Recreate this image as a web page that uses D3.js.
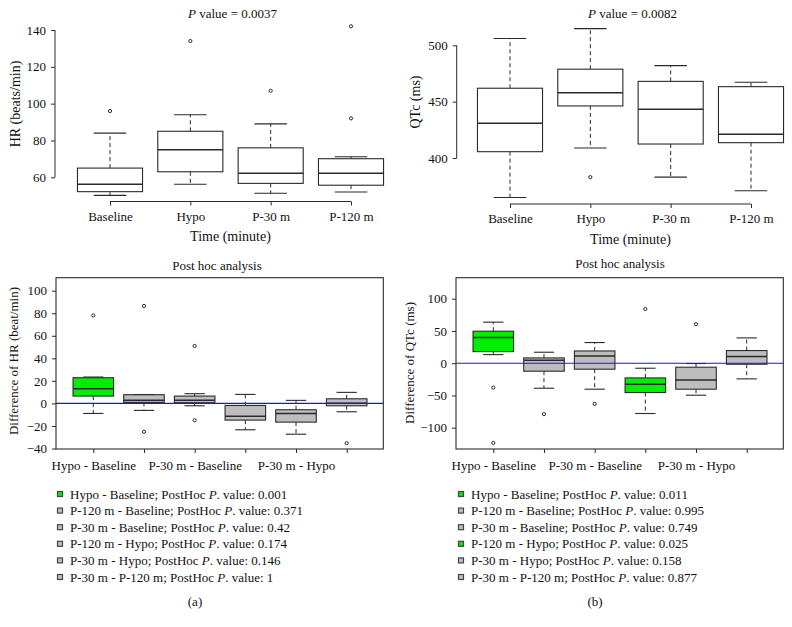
<!DOCTYPE html>
<html>
<head>
<meta charset="utf-8">
<script src="https://cdn.jsdelivr.net/npm/d3@7/dist/d3.min.js"></script>
<style>
  body { margin: 0; background: #fff; }
  svg text { font-family: "Liberation Serif", "Times New Roman", serif; fill: #111; }
</style>
</head>
<body>
<svg id="chart" width="792" height="627"></svg>
<script>
// ---------- DATA ----------
const timeCats = ["Baseline", "Hypo", "P-30 m", "P-120 m"];
// [lower whisker, Q1, median, Q3, upper whisker]
const hrStats = [
  [50.2, 52.2, 56.2, 65, 84],
  [56.2, 63, 75, 85, 94],
  [51.3, 56.7, 62.2, 76, 89],
  [52, 55.7, 62.2, 70.1, 71.2]
];
const hrOutliers = [[96], [134], [107], [142, 92]];
const hrTicks = [60, 80, 100, 120, 140];

const qtcStats = [
  [365, 405.6, 430.8, 461.9, 506],
  [408.9, 446.2, 458, 478.8, 514.8],
  [383, 412.4, 443.2, 468, 482],
  [371, 413.6, 421, 463.3, 467.2]
];
const qtcOutliers = [[], [383], [], []];
const qtcTicks = [400, 450, 500];

const compCats = ["Hypo - Baseline", "P-120 m - Baseline", "P-30 m - Baseline",
                  "P-120 m - Hypo", "P-30 m - Hypo", "P-30 m - P-120 m"];
const compTickLabels = ["Hypo - Baseline", "", "P-30 m - Baseline", "", "P-30 m - Hypo", ""];

const dHrStats = [
  [-8.9, 6.5, 13, 22.8, 23.4],
  [-6.2, 0.9, 2.7, 7.7, 7.9],
  [-2.1, 0.6, 2.7, 6.5, 8.6],
  [-23.4, -14.8, -11.3, -1.8, 8],
  [-27.3, -16.6, -8.9, -5.6, 2.7],
  [-7.4, -2.1, 0.2, 4.1, 9.8]
];
const dHrOutliers = [[78], [86.5, -25.2], [51, -15], [], [], [-35.3]];
const dHrPvals = ["0.001", "0.371", "0.42", "0.174", "0.146", "1"];
const dHrTicks = [-40, -20, 0, 20, 40, 60, 80, 100];

const dQtcStats = [
  [13.3, 18, 39.7, 49.6, 63.6],
  [-38.8, -12.4, 4.6, 8.2, 17],
  [-40.3, -9.3, 11.3, 19, 32],
  [-78, -45.5, -32.6, -22.8, -7.8],
  [-49.6, -40.3, -25.9, -6.2, -0.5],
  [-24.3, -1.6, 10.3, 19.6, 39.2]
];
const dQtcOutliers = [[-37.8, -123.6], [-79], [-63], [84], [60.5], []];
const dQtcPvals = ["0.011", "0.995", "0.749", "0.025", "0.158", "0.877"];
const dQtcTicks = [-100, -50, 0, 50, 100];

// ---------- DRAWING ----------
const svg = d3.select("#chart");
const INK = "#2a2a2a";
const GREEN = "#00ee00";
const GREY = "#bebebe";
const fmtMinus = d => String(d).replace("-", "\u2212");

function drawBoxes(g, cats, stats, outliers, x, y, bw, fills) {
  cats.forEach((c, i) => {
    const [lo, q1, md, q3, hi] = stats[i];
    const cx = x(c);
    const fill = fills ? fills[i] : "#fff";
    g.append("line").attr("x1", cx).attr("x2", cx).attr("y1", y(q3)).attr("y2", y(hi))
      .attr("stroke", INK).attr("stroke-width", 1).attr("stroke-dasharray", "4,3");
    g.append("line").attr("x1", cx).attr("x2", cx).attr("y1", y(q1)).attr("y2", y(lo))
      .attr("stroke", INK).attr("stroke-width", 1).attr("stroke-dasharray", "4,3");
    [lo, hi].forEach(v => {
      g.append("line").attr("x1", cx - bw / 4).attr("x2", cx + bw / 4)
        .attr("y1", y(v)).attr("y2", y(v)).attr("stroke", INK).attr("stroke-width", 1.1);
    });
    g.append("rect").attr("x", cx - bw / 2).attr("width", bw)
      .attr("y", y(q3)).attr("height", y(q1) - y(q3))
      .attr("fill", fill).attr("stroke", INK).attr("stroke-width", 1.1);
    g.append("line").attr("x1", cx - bw / 2).attr("x2", cx + bw / 2)
      .attr("y1", y(md)).attr("y2", y(md)).attr("stroke", INK).attr("stroke-width", 1.5);
    outliers[i].forEach(v => {
      g.append("circle").attr("cx", cx).attr("cy", y(v)).attr("r", 1.6)
        .attr("fill", "none").attr("stroke", INK).attr("stroke-width", 1);
    });
  });
}

function yAxis(g, y, xPos, ticks, lineSpan) {
  const ax = d3.axisLeft(y).tickValues(ticks).tickSize(4).tickPadding(5).tickFormat(fmtMinus);
  const a = g.append("g").attr("transform", `translate(${xPos},0)`).call(ax);
  a.select(".domain").remove();
  a.selectAll("text").style("font-size", "13px").attr("fill", "#111")
    .style("font-family", "'Liberation Serif', serif");
  a.selectAll("line").attr("stroke", INK);
  if (lineSpan) {
    g.append("line").attr("x1", xPos).attr("x2", xPos)
      .attr("y1", y(ticks[0])).attr("y2", y(ticks[ticks.length - 1])).attr("stroke", INK);
  }
}

function topPanel(opts) {
  const g = svg.append("g");
  const x = d3.scalePoint().domain(timeCats).range(opts.xr);
  const y = d3.scaleLinear().domain(opts.yd).range(opts.yr);
  const bw = x.step() * 0.81;
  drawBoxes(g, timeCats, opts.stats, opts.outliers, x, y, bw, null);
  yAxis(g, y, opts.axisX, opts.ticks, true);
  const ax = d3.axisBottom(x).tickSize(4).tickPadding(6);
  const a = g.append("g").attr("transform", `translate(0,${opts.axisY})`).call(ax);
  a.select(".domain").remove();
  a.selectAll("line").attr("stroke", INK);
  a.selectAll("text").style("font-size", "13px").attr("fill", "#111")
    .style("font-family", "'Liberation Serif', serif");
  g.append("line").attr("x1", x(timeCats[0])).attr("x2", x(timeCats[3]))
    .attr("y1", opts.axisY).attr("y2", opts.axisY).attr("stroke", INK);
  const cx = (opts.xr[0] + opts.xr[1]) / 2;
  const t = g.append("text").attr("x", cx + 2).attr("y", 18).attr("text-anchor", "middle")
    .style("font-size", "13px");
  t.append("tspan").style("font-style", "italic").text("P");
  t.append("tspan").text(" value = " + opts.pval);
  g.append("text").attr("x", cx).attr("y", opts.xtitleY).attr("text-anchor", "middle")
    .style("font-size", "14px").text("Time (minute)");
  g.append("text").attr("transform", `translate(${opts.ytX},${opts.ytY}) rotate(-90)`)
    .attr("text-anchor", "middle").style("font-size", "14px").text(opts.ytitle);
}

topPanel({ xr: [110, 351], yd: [60, 140], yr: [177.3, 30], axisX: 55, axisY: 201.5,
  ticks: hrTicks, stats: hrStats, outliers: hrOutliers, pval: "0.0037",
  xtitleY: 241, ytitle: "HR (beats/min)", ytX: 20, ytY: 104 });
topPanel({ xr: [510, 751], yd: [400, 500], yr: [158, 45.3], axisX: 456.7, axisY: 204,
  ticks: qtcTicks, stats: qtcStats, outliers: qtcOutliers, pval: "0.0082",
  xtitleY: 244, ytitle: "QTc (ms)", ytX: 420, ytY: 102 });

function bottomPanel(opts) {
  const g = svg.append("g");
  const x = d3.scalePoint().domain(compCats).range(opts.xr);
  const y = d3.scaleLinear().domain(opts.yd).range(opts.yr);
  const [fx0, fx1, fy0, fy1] = opts.frame;
  const bw = x.step() * 0.8;
  const fills = opts.pvals.map(p => (+p < 0.05 ? GREEN : GREY));
  drawBoxes(g, compCats, opts.stats, opts.outliers, x, y, bw, fills);
  g.append("line").attr("x1", fx0).attr("x2", fx1).attr("y1", y(0)).attr("y2", y(0))
    .attr("stroke", "#1a1acc").attr("stroke-width", 1.1);
  g.append("rect").attr("x", fx0).attr("y", fy0).attr("width", fx1 - fx0).attr("height", fy1 - fy0)
    .attr("fill", "none").attr("stroke", INK).attr("stroke-width", 1.1);
  yAxis(g, y, fx0, opts.ticks, false);
  const ax = d3.axisBottom(x).tickSize(4).tickPadding(8)
    .tickFormat((d, i) => compTickLabels[i]);
  const a = g.append("g").attr("transform", `translate(0,${fy1})`).call(ax);
  a.select(".domain").remove();
  a.selectAll("line").attr("stroke", INK);
  a.selectAll("text").style("font-size", "13px").attr("fill", "#111")
    .style("font-family", "'Liberation Serif', serif");
  g.append("text").attr("x", opts.titleX).attr("y", opts.titleY).attr("text-anchor", "middle")
    .style("font-size", "13px").text("Post hoc analysis");
  g.append("text").attr("transform", `translate(${opts.ytX},${opts.ytY}) rotate(-90)`)
    .attr("text-anchor", "middle").style("font-size", "13px").text(opts.ytitle);
  compCats.forEach((c, i) => {
    const ly = 494 + i * 16.6;
    g.append("rect").attr("x", opts.legX - 2.5).attr("y", ly - 2.5).attr("width", 5).attr("height", 5)
      .attr("fill", fills[i]).attr("stroke", "#444").attr("stroke-width", 1.2);
    const t = g.append("text").attr("x", opts.legX + 10).attr("y", ly + 4.5).style("font-size", "13px");
    t.append("tspan").text(c + "; PostHoc ");
    t.append("tspan").style("font-style", "italic").text("P");
    t.append("tspan").text(". value: " + opts.pvals[i]);
  });
  g.append("text").attr("x", opts.labX).attr("y", 606).attr("text-anchor", "middle")
    .style("font-size", "13px").text(opts.label);
}

bottomPanel({ xr: [93.3, 346.7], yd: [-40, 100], yr: [448.5, 290.7],
  frame: [56, 383.3, 277.7, 449], ticks: dHrTicks, stats: dHrStats, outliers: dHrOutliers,
  pvals: dHrPvals, titleX: 217, titleY: 269.5, ytitle: "Difference of HR (beat/min)",
  ytX: 18, ytY: 361, legX: 60, labX: 195, label: "(a)" });
bottomPanel({ xr: [493.3, 746.7], yd: [-100, 100], yr: [427.7, 298.7],
  frame: [456, 783.3, 277.7, 449], ticks: dQtcTicks, stats: dQtcStats, outliers: dQtcOutliers,
  pvals: dQtcPvals, titleX: 620, titleY: 267.5, ytitle: "Difference of QTc (ms)",
  ytX: 414, ytY: 363, legX: 461, labX: 595, label: "(b)" });
</script>
</body>
</html>
